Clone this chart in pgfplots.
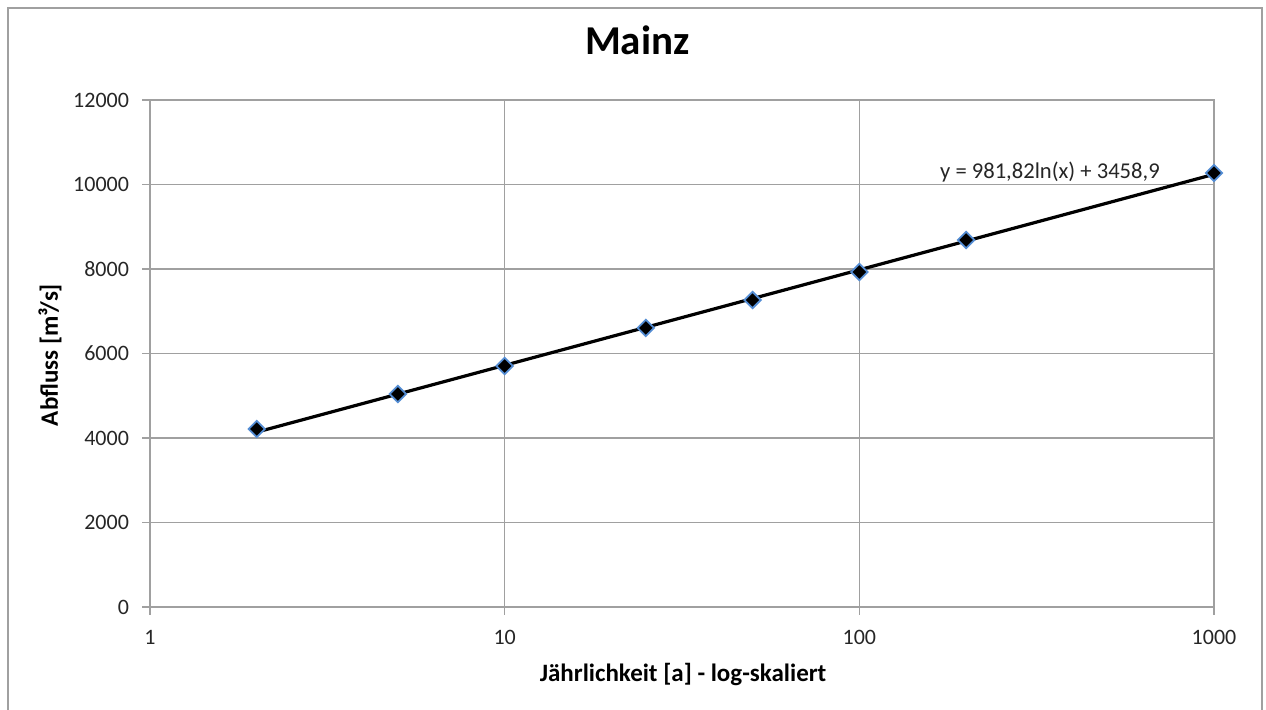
\documentclass[border=0pt]{standalone}
\usepackage{fontspec}
\setmainfont{Carlito}
\usepackage{pgfplots}
\pgfplotsset{compat=1.18}
\definecolor{gridgray}{RGB}{160,160,160}
\definecolor{markblue}{RGB}{84,141,212}
\begin{document}
\begin{tikzpicture}
\useasboundingbox (0,0) rectangle (633pt,355pt);
\draw[gridgray, line width=0.8pt] (4pt,-2pt) rectangle (631pt,351pt);
\begin{axis}[
  at={(75pt,51.5pt)}, anchor=south west,
  scale only axis, width=532pt, height=253.5pt,
  xmode=log, xmin=1, xmax=1000, ymin=0, ymax=12000,
  xtick={1,10,100,1000}, xticklabels={1,10,100,1000},
  ytick={0,2000,4000,6000,8000,10000,12000},
  minor xtick={},
  log basis x=10,
  /pgf/number format/assume math mode=true,
  /pgf/number format/1000 sep={},
  scaled y ticks=false,
  grid=major,
  major grid style={gridgray, line width=0.6pt},
  axis line style={gridgray, line width=0.6pt},
  tick style={gridgray, line width=0.6pt},
  tick align=outside, major tick length=4pt,
  xtick pos=bottom, ytick pos=left,
  ticklabel style={font=\fontsize{11}{13}\selectfont, text=black!85},
  xticklabel style={yshift=-4pt},
  yticklabel style={xshift=-3pt},
  xlabel={Jährlichkeit [a] - log-skaliert},
  ylabel={Abfluss [m³/s]},
  xlabel style={font=\bfseries\fontsize{12.5}{15}\selectfont, at={(rel axis cs:0.501,-0.134)}, anchor=center},
  ylabel style={font=\bfseries\fontsize{12.5}{15}\selectfont, at={(rel axis cs:-0.094,0.497)}, anchor=center, rotate=0},
  title={Mainz},
  title style={font=\bfseries\fontsize{20.5}{24}\selectfont, at={(rel axis cs:0.458,1.095)}, anchor=center},
  clip=false,
]
\addplot[black, line width=1.6pt, no marks] coordinates {(2,4139.4) (1000,10241.1)};
\addplot[only marks, mark=square*, mark size=2.9pt, mark options={rotate=45, fill=black, draw=markblue, line width=0.9pt}]
coordinates {(2,4213) (5,5041) (10,5704) (25,6604) (50,7266) (100,7929) (200,8686) (1000,10272)};
\node[anchor=east, font=\fontsize{11.3}{13}\selectfont, text=black!85] at (axis cs:736,10296) {y = 981,82ln(x) + 3458,9};
\end{axis}
\end{tikzpicture}
\end{document}
